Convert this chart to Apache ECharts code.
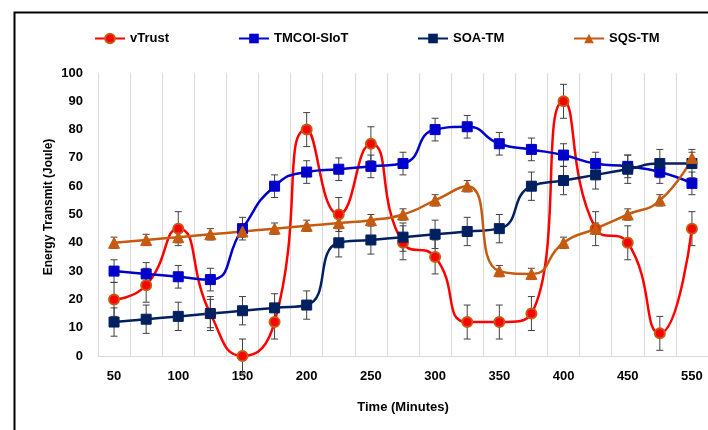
<!DOCTYPE html>
<html>
<head>
<meta charset="utf-8">
<script src="https://cdn.jsdelivr.net/npm/echarts@6/dist/echarts.min.js"></script>
<style>html,body{margin:0;padding:0;background:#fff;}#c{width:708px;height:430px;}</style>
</head>
<body>
<div id="c"></div>
<script>
var categories = ['50','75','100','125','150','175','200','225','250','275','300','325','350','375','400','425','450','500','550'];
var vTrust    = [20,25,45,15,0,12,80,50,75,40,35,12,12,15,90,45,40,8,45];
var tmcoi     = [30,29,28,27,45,60,65,66,67,68,80,81,75,73,71,68,67,65,61];
var soaTm     = [12,13,14,15,16,17,18,40,41,42,43,44,45,60,62,64,66,68,68];
var sqsTm     = [40,41,42,43,44,45,46,47,48,50,55,60,30,29,40,45,50,55,70];
var vTrustErr = 6, tmcoiErr = 4, soaErr = 5, sqsErr = 2;
var yTicks = [0,10,20,30,40,50,60,70,80,90,100];

var FONT = 'Liberation Sans';
var SMOOTH = 0.55;
function errData(vals, e){ return vals.map(function(v,i){ return [i, v - e, v + e]; }); }
function errSeries(vals, e){
  return {
    type:'custom', z:1, silent:true,
    data: errData(vals, e),
    encode:{x:0, y:[1,2]},
    renderItem:function(params, api){
      var x = api.value(0);
      var lo = api.coord([x, api.value(1)]);
      var hi = api.coord([x, api.value(2)]);
      var w = 3.5, st = {stroke:'#404040', lineWidth:1};
      return {type:'group', children:[
        {type:'line', shape:{x1:lo[0], y1:lo[1], x2:hi[0], y2:hi[1]}, style:st},
        {type:'line', shape:{x1:lo[0]-w, y1:lo[1], x2:lo[0]+w, y2:lo[1]}, style:st},
        {type:'line', shape:{x1:hi[0]-w, y1:hi[1], x2:hi[0]+w, y2:hi[1]}, style:st}
      ]};
    }
  };
}
var legendText = {fontFamily:FONT, fontWeight:'bold', fontSize:13, color:'#000'};
function leg(name, left){
  return {data:[name], left:left, top:27, itemWidth:30, itemHeight:12, itemGap:0, textStyle:legendText, selectedMode:false};
}
var chart = echarts.init(document.getElementById('c'), null, {renderer:'canvas'});
chart.setOption({
  animation:false,
  backgroundColor:'#fff',
  textStyle:{fontFamily:FONT},
  legend:[leg('vTrust',89), leg('TMCOI-SIoT',233), leg('SOA-TM',412), leg('SQS-TM',568)],
  grid:{left:98, top:73, width:612, height:283},
  xAxis:{
    type:'category', data:categories, boundaryGap:true,
    axisLine:{show:true, lineStyle:{color:'#D9D9D9', width:1}},
    axisTick:{show:false},
    axisLabel:{interval:1, margin:14, fontFamily:FONT, fontWeight:'bold', fontSize:13, color:'#000'},
    splitLine:{show:true, interval:0, lineStyle:{color:'#D9D9D9', width:1}},
    name:'Time (Minutes)', nameLocation:'middle', nameGap:45,
    nameTextStyle:{fontFamily:FONT, fontWeight:'bold', fontSize:13, color:'#000'}
  },
  yAxis:{
    type:'value', min:yTicks[0], max:yTicks[yTicks.length-1], interval:10,
    axisLine:{show:false}, axisTick:{show:false}, splitLine:{show:false},
    axisLabel:{margin:15, fontFamily:FONT, fontWeight:'bold', fontSize:13, color:'#000'}
  },
  graphic:[
    {type:'rect', left:12, top:10, shape:{x:0,y:0,width:800,height:500}, style:{fill:'none', stroke:'#000', lineWidth:2}, silent:true, z:-1},
    {type:'text', x:49, y:207, rotation:Math.PI/2, style:{text:'Energy Transmit (Joule)', fontFamily:FONT, fontWeight:'bold', fontSize:12, fill:'#000', align:'center', verticalAlign:'middle'}}
  ],
  series:[
    errSeries(vTrust, vTrustErr), errSeries(tmcoi, tmcoiErr), errSeries(soaTm, soaErr), errSeries(sqsTm, sqsErr),
    {name:'vTrust', type:'line', z:3, data:vTrust, smooth:SMOOTH, symbol:'circle', symbolSize:10,
     lineStyle:{color:'#FF0000', width:2.5}, itemStyle:{color:'#FF0000', borderColor:'#C55A11', borderWidth:2}},
    {name:'TMCOI-SIoT', type:'line', z:3, data:tmcoi, smooth:SMOOTH, symbol:'rect', symbolSize:10,
     lineStyle:{color:'#0000CC', width:2.5}, itemStyle:{color:'#0000CC', borderColor:'#0000CC'}},
    {name:'SOA-TM', type:'line', z:3, data:soaTm, smooth:SMOOTH, symbol:'rect', symbolSize:10,
     lineStyle:{color:'#002060', width:2.5}, itemStyle:{color:'#002060', borderColor:'#002060'}},
    {name:'SQS-TM', type:'line', z:3, data:sqsTm, smooth:SMOOTH, symbol:'triangle', symbolSize:11,
     lineStyle:{color:'#C55A11', width:2.5}, itemStyle:{color:'#C55A11', borderColor:'#C55A11'}}
  ]
});
</script>
</body>
</html>
